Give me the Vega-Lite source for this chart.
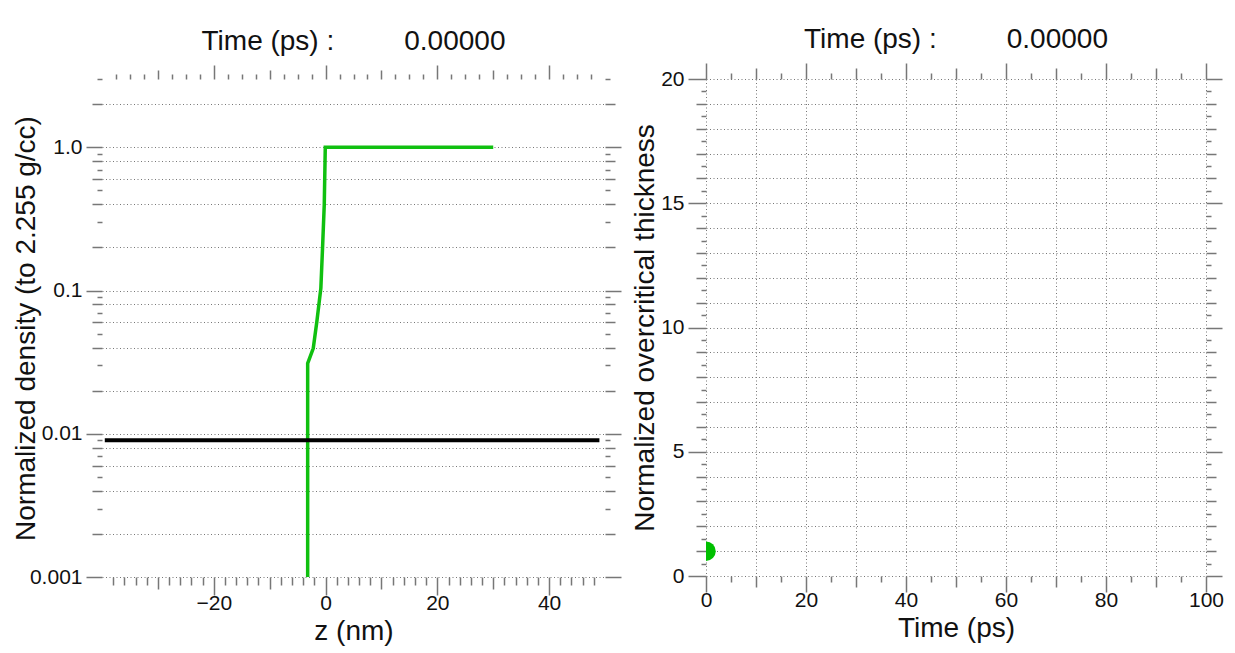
{
  "$schema": "https://vega.github.io/schema/vega-lite/v6.json",
  "background": "white",
  "padding": {"left": 11, "top": 26, "right": 5, "bottom": 5},
  "spacing": 8,
  "config": {
    "view": {"stroke": null},
    "font": "Liberation Sans",
    "axis": {
      "labelFont": "Liberation Sans",
      "titleFont": "Liberation Sans",
      "labelFontSize": 21,
      "labelColor": "#111",
      "titleFontSize": 28,
      "titleFontWeight": "normal",
      "titleColor": "#111",
      "domain": false,
      "tickColor": "#777",
      "tickWidth": 1.5,
      "gridColor": "#777",
      "gridDash": [1, 2.5],
      "gridWidth": 1,
      "labelOverlap": false,
      "labelFlush": false,
      "labelBound": false
    },
    "title": {"font": "Liberation Sans", "fontSize": 28, "fontWeight": "normal", "color": "#111", "offset": 8, "anchor": "middle"}
  },
  "datasets": {
    "profile": [
      {"step": 1, "z": -3.2, "density": 0.001},
      {"step": 2, "z": -3.2, "density": 0.031},
      {"step": 3, "z": -2.2, "density": 0.0395},
      {"step": 4, "z": -1.55, "density": 0.061},
      {"step": 5, "z": -0.84, "density": 0.104},
      {"step": 6, "z": -0.54, "density": 0.198},
      {"step": 7, "z": -0.23, "density": 0.4},
      {"step": 8, "z": -0.05, "density": 1.0},
      {"step": 9, "z": 30, "density": 1.0}
    ],
    "critical": [
      {"step": 1, "z": -39.5, "density": 0.009},
      {"step": 2, "z": 49, "density": 0.009}
    ],
    "thickness": [
      {"time": 0, "thickness": 1}
    ]
  },
  "hconcat": [
    {
      "width": 503,
      "height": 498,
      "title": {"text": "Time (ps) :\u00a0\u00a0\u00a0\u00a0\u00a0\u00a0\u00a0\u00a0\u00a00.00000"},
      "layer": [
        {
          "data": {"name": "profile"},
          "mark": {"type": "line", "color": "#10c010", "strokeWidth": 3.5},
          "encoding": {
            "order": {"field": "step", "type": "quantitative"},
            "x": {
              "field": "z", "type": "quantitative",
              "scale": {"domain": [-40, 50], "nice": false, "zero": false},
              "axis": {
                "orient": "bottom",
                "title": "z (nm)",
                "titlePadding": 4,
                "values": [-38,-36,-34,-32,-30,-28,-26,-24,-22,-20,-18,-16,-14,-12,-10,-8,-6,-4,-2,0,2,4,6,8,10,12,14,16,18,20,22,24,26,28,30,32,34,36,38,40,42,44,46,48],
                "labelExpr": "datum.value % 20 === 0 ? datum.label : ''",
                "labelPadding": -3,
                "tickSize": {"expr": "datum.value % 20 === 0 ? 18 : (datum.value % 10 === 0 ? 12 : 8)"},
                "grid": false
              }
            },
            "y": {
              "field": "density", "type": "quantitative",
              "scale": {"type": "log", "domain": [0.001, 3], "nice": false},
              "axis": {
                "orient": "left",
                "title": "Normalized density (to 2.255 g/cc)",
                "titleX": -76,
                "titleBaseline": "middle",
                "titleAngle": -90,
                "values": [0.001,0.002,0.003,0.004,0.005,0.006,0.007,0.008,0.009,0.01,0.02,0.03,0.04,0.05,0.06,0.07,0.08,0.09,0.1,0.2,0.3,0.4,0.5,0.6,0.7,0.8,0.9,1,2,3],
                "labelExpr": "datum.value == 1 ? '1.0' : (datum.value == 0.1 ? '0.1' : (datum.value == 0.01 ? '0.01' : (datum.value == 0.001 ? '0.001' : '')))",
                "labelPadding": 4,
                "tickSize": {"expr": "round(datum.value / pow(10, floor(log(datum.value) / LN10 + 1e-9))) == 1 ? 16 : (indexof([2,4,6,8], round(datum.value / pow(10, floor(log(datum.value) / LN10 + 1e-9)))) >= 0 ? 10 : 5)"},
                "grid": true,
                "gridOpacity": {"condition": {"test": "indexof([1,2,4,6,8], round(datum.value / pow(10, floor(log(datum.value) / LN10 + 1e-9)))) >= 0", "value": 1}, "value": 0}
              }
            }
          }
        },
        {
          "data": {"name": "critical"},
          "mark": {"type": "line", "color": "black", "strokeWidth": 4},
          "encoding": {
            "order": {"field": "step", "type": "quantitative"},
            "x": {
              "field": "z", "type": "quantitative",
              "scale": {"domain": [-40, 50], "nice": false, "zero": false},
              "axis": {
                "orient": "top",
                "title": null,
                "labels": false,
                "values": [-37.5,-35,-32.5,-30,-27.5,-25,-22.5,-20,-17.5,-15,-12.5,-10,-7.5,-5,-2.5,0,2.5,5,7.5,10,12.5,15,17.5,20,22.5,25,27.5,30,32.5,35,37.5,40,42.5,45,47.5],
                "tickSize": {"expr": "datum.value % 20 === 0 ? 14 : (datum.value % 10 === 0 ? 9 : 5)"},
                "grid": false
              }
            },
            "y": {
              "field": "density", "type": "quantitative",
              "scale": {"type": "log", "domain": [0.001, 3], "nice": false},
              "axis": {
                "orient": "right",
                "title": null,
                "labels": false,
                "values": [0.001,0.002,0.003,0.004,0.005,0.006,0.007,0.008,0.009,0.01,0.02,0.03,0.04,0.05,0.06,0.07,0.08,0.09,0.1,0.2,0.3,0.4,0.5,0.6,0.7,0.8,0.9,1,2,3],
                "tickSize": {"expr": "round(datum.value / pow(10, floor(log(datum.value) / LN10 + 1e-9))) == 1 ? 16 : (indexof([2,4,6,8], round(datum.value / pow(10, floor(log(datum.value) / LN10 + 1e-9)))) >= 0 ? 10 : 5)"},
                "grid": false
              }
            }
          }
        }
      ],
      "resolve": {"axis": {"x": "independent", "y": "independent"}}
    },
    {
      "width": 500,
      "height": 497,
      "title": {"text": "Time (ps) :\u00a0\u00a0\u00a0\u00a0\u00a0\u00a0\u00a0\u00a0\u00a00.00000"},
      "layer": [
        {
          "data": {"name": "thickness"},
          "mark": {"type": "circle", "size": 380, "color": "#00c000", "opacity": 1, "clip": true},
          "encoding": {
            "x": {
              "field": "time", "type": "quantitative",
              "scale": {"domain": [0, 100], "nice": false},
              "axis": {
                "orient": "bottom",
                "title": "Time (ps)",
                "titlePadding": 4,
                "values": [0,5,10,15,20,25,30,35,40,45,50,55,60,65,70,75,80,85,90,95,100],
                "labelExpr": "datum.value % 20 === 0 ? format(datum.value, 'd') : ''",
                "labelPadding": -3,
                "tickSize": {"expr": "datum.value % 20 === 0 ? 16 : (datum.value % 10 === 0 ? 11 : 6)"},
                "grid": true,
                "gridOpacity": {"condition": {"test": "datum.value % 10 === 0", "value": 1}, "value": 0}
              }
            },
            "y": {
              "field": "thickness", "type": "quantitative",
              "scale": {"domain": [0, 20], "nice": false},
              "axis": {
                "orient": "left",
                "title": "Normalized overcritical thickness",
                "titleX": -61,
                "titleBaseline": "middle",
                "titleAngle": -90,
                "values": [0,0.5,1,1.5,2,2.5,3,3.5,4,4.5,5,5.5,6,6.5,7,7.5,8,8.5,9,9.5,10,10.5,11,11.5,12,12.5,13,13.5,14,14.5,15,15.5,16,16.5,17,17.5,18,18.5,19,19.5,20],
                "labelExpr": "datum.value % 5 === 0 ? format(datum.value, 'd') : ''",
                "labelPadding": 4,
                "tickSize": {"expr": "datum.value % 5 === 0 ? 18 : (datum.value % 1 === 0 ? 10 : 5)"},
                "grid": true,
                "gridOpacity": {"condition": {"test": "datum.value % 1 === 0", "value": 1}, "value": 0}
              }
            }
          }
        },
        {
          "data": {"name": "thickness"},
          "mark": {"type": "circle", "size": 380, "color": "#00c000", "opacity": 0, "clip": true},
          "encoding": {
            "x": {
              "field": "time", "type": "quantitative",
              "scale": {"domain": [0, 100], "nice": false},
              "axis": {
                "orient": "top",
                "title": null,
                "labels": false,
                "values": [0,5,10,15,20,25,30,35,40,45,50,55,60,65,70,75,80,85,90,95,100],
                "tickSize": {"expr": "datum.value % 20 === 0 ? 16 : (datum.value % 10 === 0 ? 11 : 6)"},
                "grid": false
              }
            },
            "y": {
              "field": "thickness", "type": "quantitative",
              "scale": {"domain": [0, 20], "nice": false},
              "axis": {
                "orient": "right",
                "title": null,
                "labels": false,
                "values": [0,0.5,1,1.5,2,2.5,3,3.5,4,4.5,5,5.5,6,6.5,7,7.5,8,8.5,9,9.5,10,10.5,11,11.5,12,12.5,13,13.5,14,14.5,15,15.5,16,16.5,17,17.5,18,18.5,19,19.5,20],
                "tickSize": {"expr": "datum.value % 5 === 0 ? 16 : (datum.value % 1 === 0 ? 10 : 5)"},
                "grid": false
              }
            }
          }
        }
      ],
      "resolve": {"axis": {"x": "independent", "y": "independent"}}
    }
  ]
}
